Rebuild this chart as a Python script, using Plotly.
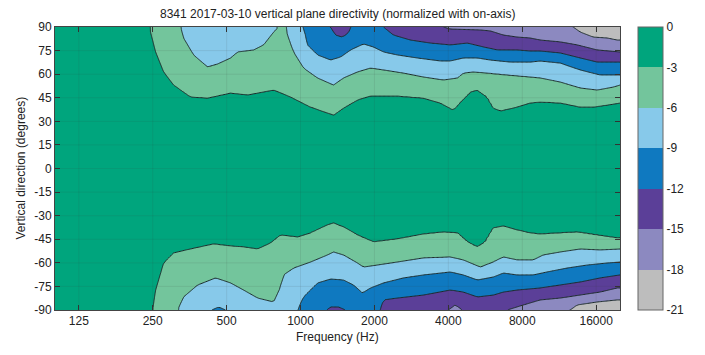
import numpy as np
import plotly.graph_objects as go

TITLE = "8341 2017-03-10 vertical plane directivity (normalized with on-axis)"
X_TITLE = "Frequency (Hz)"
Y_TITLE = "Vertical direction (degrees)"
X_TICKS = [125, 250, 500, 1000, 2000, 4000, 8000, 16000]
X_TICK_TEXT = ["125", "250", "500", "1000", "2000", "4000", "8000", "16000"]
Y_TICKS = [-90, -75, -60, -45, -30, -15, 0, 15, 30, 45, 60, 75, 90]
Y_TICK_TEXT = ["-90", "-75", "-60", "-45", "-30", "-15", "0", "15", "30", "45", "60", "75", "90"]
LEVELS = [0, -3, -6, -9, -12, -15, -18, -21]
LEVEL_TEXT = ["0", "-3", "-6", "-9", "-12", "-15", "-18", "-21"]
# band colours from lowest (-21..-18) to highest (-3..0)
BAND_COLORS = ["#bdbdbd", "#8c89c0", "#5b3f98", "#0f79c0", "#87c9ea", "#73c59c", "#00a57d"]
F_MIN, F_MAX = 100, 20000

# Contour lines: segments of (frequency Hz, angle deg)
TOP_3 = [[(242, 90), (257, 74.1), (277, 61.4), (304, 53.1), (357, 45.5), (418, 44.8), (519, 48.0),
          (609, 46.8), (777, 49.9), (911, 45.5), (1098, 39.1), (1362, 34.0), (1496, 38.5), (1705, 43.6),
          (1926, 46.1), (2481, 46.1), (3165, 44.8), (3712, 41.7), (4192, 37.2), (4475, 42.3), (4915, 48.7),
          (5249, 49.9), (5764, 45.5), (6098, 38.5), (6511, 36.6), (7634, 39.1), (8622, 41.7), (9468, 42.3),
          (11421, 41.7), (13775, 39.1), (15552, 39.1), (17738, 40.4), (20000, 41.7)]]
TOP_6 = [[(325, 90), (334, 83.0), (367, 72.2), (418, 64.6), (460, 66.5), (519, 70.3), (554, 74.1),
          (644, 75.4), (707, 78.6), (777, 86.8), (814, 90)],
         [(869, 90), (885, 84.9), (937, 74.1), (1029, 63.9), (1173, 57.6), (1362, 53.1), (1496, 57.6),
          (1705, 61.4), (1926, 63.9), (2176, 62.7), (2624, 60.7), (3165, 58.2), (3816, 56.3), (4352, 57.6),
          (4604, 60.7), (5056, 61.4), (5764, 60.7), (6952, 59.5), (8622, 58.2), (9468, 57.6), (11421, 55.0),
          (13775, 51.2), (16155, 49.9), (18764, 51.8), (20000, 53.1)]]
TOP_9 = [[(1029, 90), (1068, 78.6), (1173, 72.2), (1325, 69.0), (1455, 70.9), (1598, 75.4), (1804, 79.2),
          (1981, 77.3), (2176, 74.1), (2481, 72.2), (2991, 70.3), (3712, 68.4), (4075, 68.4), (4604, 70.3),
          (5249, 70.3), (5929, 69.0), (7150, 67.7), (8622, 67.7), (9468, 68.4), (11421, 67.1), (13775, 62.7),
          (16613, 59.5), (20000, 59.5)]]
TOP_12 = [[(1325, 90), (1388, 84.9), (1480, 83.6), (1568, 86.2), (1598, 90)],
          [(2176, 90), (2390, 84.9), (2802, 81.7), (3379, 79.8), (4075, 78.6), (4779, 79.8), (5551, 77.3),
           (6330, 75.4), (7634, 75.4), (8622, 74.7), (9468, 74.7), (11421, 73.5), (13775, 70.3),
           (16155, 67.7), (20000, 67.7)]]
TOP_15 = [[(3816, 90), (4075, 88.7), (5397, 88.1), (5929, 87.5), (6697, 84.9), (7634, 83.6), (8622, 83.0),
           (9468, 81.7), (11421, 80.5), (13390, 78.6), (16155, 75.4), (20000, 74.1)]]
TOP_18 = [[(12900, 90), (13775, 86.8), (15552, 83.6), (17738, 83.0), (19482, 81.7), (20000, 81.7)]]

BOT_3 = [[(250, -90), (257, -77.3), (277, -60.1), (304, -53.7), (357, -51.2), (443, -48.0), (519, -49.3),
          (586, -49.9), (669, -51.2), (755, -47.4), (829, -42.3), (972, -43.6), (1098, -41.0), (1288, -35.9),
          (1362, -34.7), (1496, -37.2), (1705, -42.3), (1981, -46.7), (2481, -44.8), (3165, -41.7),
          (3816, -40.4), (4352, -41.0), (4779, -46.7), (5249, -49.9), (5657, -46.7), (6098, -37.8),
          (6697, -36.6), (7634, -39.1), (8622, -41.0), (9468, -41.7), (11421, -41.0), (13390, -40.4),
          (16155, -42.3), (19482, -44.2), (20000, -44.2)]]
BOT_6 = [[(316, -90), (334, -81.7), (381, -74.1), (451, -69.6), (519, -72.8), (586, -77.3), (669, -82.4),
          (777, -84.9), (829, -75.4), (853, -67.7), (937, -63.3), (1098, -59.5), (1288, -55.0), (1362, -53.1),
          (1496, -55.0), (1705, -60.1), (1804, -62.7), (2057, -61.4), (2481, -59.5), (3165, -56.9),
          (4075, -56.3), (4604, -58.2), (5397, -62.7), (6098, -59.5), (6697, -56.3), (7634, -58.2),
          (8870, -58.2), (9740, -55.0), (11421, -53.1), (13775, -51.2), (16613, -51.8), (20000, -51.2)]]
BOT_9 = [[(435, -90), (464, -88.1), (495, -90)],
         [(972, -90), (1029, -81.7), (1173, -72.8), (1325, -70.3), (1496, -70.9), (1643, -74.1), (1788, -79.2),
          (1926, -76.0), (2176, -72.8), (2624, -69.6), (3165, -67.7), (4075, -65.8), (4604, -67.7),
          (5249, -70.9), (6098, -69.0), (6697, -66.5), (7634, -67.7), (8870, -67.7), (10112, -65.8),
          (12195, -63.3), (14705, -61.4), (17738, -60.1), (20000, -59.5)]]
BOT_12 = [[(1276, -90), (1325, -88.1), (1428, -88.1), (1524, -90)],
          [(2116, -90), (2176, -83.6), (2481, -82.4), (3165, -80.5), (4075, -77.3), (4604, -78.6),
           (5249, -81.7), (6098, -80.5), (6697, -78.6), (7634, -77.3), (9468, -76.0), (11421, -74.1),
           (13775, -72.2), (16613, -69.6), (20000, -67.7)]]
BOT_15 = [[(4000, -90), (4271, -86.8), (4560, -90)],
          [(6952, -90), (7851, -87.4), (9468, -83.6), (11421, -82.4), (13775, -80.5), (16613, -78.6),
           (19482, -76.0), (20000, -76.0)]]
BOT_18 = [[(12545, -90), (13390, -86.8), (16155, -84.9), (19482, -83.6), (20000, -83.6)]]

TOP_LINES = [(-3, TOP_3), (-6, TOP_6), (-9, TOP_9), (-12, TOP_12), (-15, TOP_15), (-18, TOP_18)]
BOT_LINES = [(-3, BOT_3), (-6, BOT_6), (-9, BOT_9), (-12, BOT_12), (-15, BOT_15), (-18, BOT_18)]
CENTER_VALUE = -0.5


def seg_angle(segs, f):
    lf = np.log10(f)
    for seg in segs:
        fs = np.log10([p[0] for p in seg])
        an = [abs(p[1]) for p in seg]
        if fs[0] <= lf <= fs[-1]:
            return float(np.interp(lf, fs, an))
    return None


def half_profile(lines, f):
    pts = [(0.0, CENTER_VALUE)]
    for level, segs in lines:
        a = seg_angle(segs, f)
        if a is None or a <= pts[-1][0] + 0.3:
            continue
        pts.append((min(a, 90.0), float(level)))
    a_last, v_last = pts[-1]
    if a_last < 90:
        if len(pts) == 1:
            v_edge = -1.5
        else:
            a_prev, v_prev = pts[-2]
            slope = (v_last - v_prev) / (a_last - a_prev)
            v_edge = max(v_last + slope * (90 - a_last), v_last - 2.9)
        pts.append((90.0, v_edge))
    return pts


freqs = np.logspace(np.log10(F_MIN), np.log10(F_MAX), 220)
angles = np.linspace(-90, 90, 361)
Z = np.zeros((len(angles), len(freqs)))
for j, f in enumerate(freqs):
    top = half_profile(TOP_LINES, f)
    bot = half_profile(BOT_LINES, f)
    prof = [(-a, v) for a, v in reversed(bot[1:])] + top
    pa = [p[0] for p in prof]
    pv = [p[1] for p in prof]
    Z[:, j] = np.interp(angles, pa, pv)

colorscale = []
n = len(BAND_COLORS)
for k, c in enumerate(BAND_COLORS):
    colorscale.append([k / n, c])
    colorscale.append([(k + 1) / n, c])

FONT = "Liberation Sans, Arial, sans-serif"
# page body has an 8px default margin: figure placed at (8, 8) in the window
OFF = 8
FIG_W, FIG_H = 705 - OFF, 339
L, R, T, B = 55, 620, 27, 310          # plot area in window pixels
PW, PH = R - L, B - T

fig = go.Figure()
# filled bands + colour bar (no lines, so the colour bar has none either)
fig.add_trace(go.Contour(
    x=freqs, y=angles, z=Z, zmin=-21, zmax=0, autocontour=False,
    contours=dict(start=-21, end=0, size=3, coloring="fill", showlines=False),
    colorscale=colorscale,
    colorbar=dict(x=(638 - L) / PW, xanchor="left", xpad=0, ypad=0, y=0.5, len=1,
                  thickness=25, outlinewidth=1, outlinecolor="#666",
                  tickvals=LEVELS, ticktext=LEVEL_TEXT, ticks="",
                  tickfont=dict(family=FONT, size=12, color="#222")),
    hoverinfo="skip",
))
# contour lines
fig.add_trace(go.Contour(
    x=freqs, y=angles, z=Z, autocontour=False,
    contours=dict(start=-18, end=-3, size=3, coloring="none", showlines=True),
    line=dict(color="#1c2b2b", width=1, smoothing=0.8),
    showscale=False, hoverinfo="skip",
))

shapes = []
for xv in X_TICKS:
    shapes.append(dict(type="line", xref="x", yref="paper", x0=xv, x1=xv, y0=0, y1=1,
                       line=dict(color="rgba(60,60,60,0.10)", width=1), layer="above"))
for yv in Y_TICKS[1:-1]:
    shapes.append(dict(type="line", xref="paper", yref="y", x0=0, x1=1, y0=yv, y1=yv,
                       line=dict(color="rgba(60,60,60,0.10)", width=1), layer="above"))

fig.update_layout(
    width=FIG_W, height=FIG_H,
    margin=dict(l=L - OFF, r=705 - R, t=T - OFF, b=FIG_H - (B - OFF), autoexpand=False),
    paper_bgcolor="white", plot_bgcolor="white",
    font=dict(family=FONT, size=12, color="#222"),
    shapes=shapes,
    annotations=[
        dict(text=TITLE, xref="paper", yref="paper", x=0.5, y=1 + 13 / PH,
             xanchor="center", yanchor="middle", showarrow=False,
             font=dict(family=FONT, size=12, color="#222")),
        dict(text=X_TITLE, xref="paper", yref="paper", x=0.5, y=-(337 - B) / PH,
             xanchor="center", yanchor="middle", showarrow=False,
             font=dict(family=FONT, size=12, color="#222")),
        dict(text=Y_TITLE, xref="paper", yref="paper", x=-(L - 20) / PW, y=0.5,
             xanchor="center", yanchor="middle", showarrow=False, textangle=-90,
             font=dict(family=FONT, size=12, color="#222")),
    ],
    xaxis=dict(type="log", range=[np.log10(F_MIN), np.log10(F_MAX)], automargin=False,
               tickvals=X_TICKS, ticktext=X_TICK_TEXT, ticks="inside", ticklen=5,
               tickcolor="#333", showline=True, linecolor="#444", linewidth=1, mirror="ticks",
               showgrid=False, zeroline=False),
    yaxis=dict(range=[-90, 90], tickvals=Y_TICKS, ticktext=Y_TICK_TEXT, ticks="inside", ticklen=5,
               automargin=False,
               tickcolor="#333", showline=True, linecolor="#444", linewidth=1, mirror="ticks",
               showgrid=False, zeroline=False),
)

fig.write_html("out.html")
